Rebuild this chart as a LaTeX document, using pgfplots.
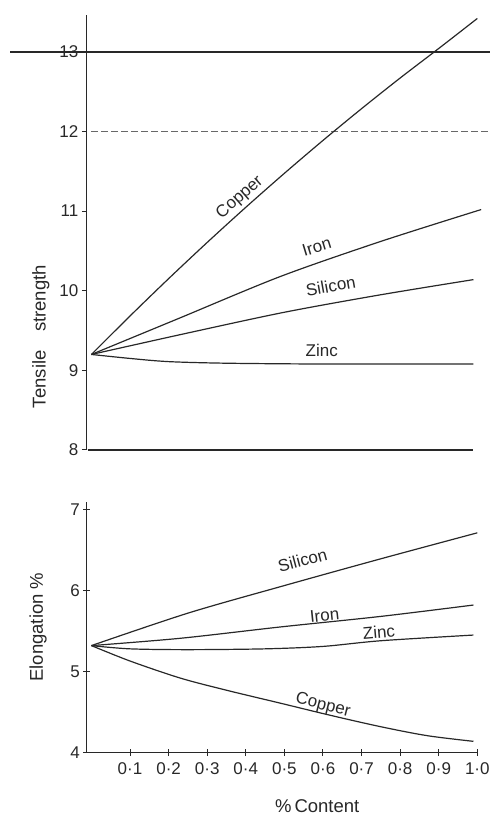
\documentclass[border=0pt]{standalone}
\usepackage{fontspec}
\setmainfont{Liberation Sans}
\usepackage{pgfplots}
\pgfplotsset{compat=1.18}
\definecolor{ink}{RGB}{40,40,40}
\newcommand\lab{\fontsize{18.5}{20}\selectfont}
\newcommand\tl{\fontsize{17}{18}\selectfont}
\newcommand\cl{\fontsize{17}{18}\selectfont}
\pgfplotsset{cv/.style={draw=ink, line width=1.2pt, no markers, solid}}
\begin{document}
\begin{tikzpicture}[x=1pt,y=1pt]
\path[use as bounding box] (0,0) rectangle (490,817);
% ---------- top panel ----------
\begin{axis}[at={(86.8pt,367pt)}, anchor=south west, scale only axis,
  width=390.5pt, height=434.7pt,
  xmin=-0.012, xmax=1.0, ymin=8, ymax=13.46, clip=false,
  axis x line=none, axis y line=left,
  axis line style={-, draw=ink, line width=1.2pt},
  ytick={8,9,10,11,12,13}, tick align=outside, major tick length=5pt,
  tick style={draw=ink, line width=1pt},
  yticklabel style={font=\tl, text=ink, /pgf/number format/assume math mode=true},
  ylabel={Tensile\quad strength},
  ylabel style={at={(axis description cs:-0.118,0.261)}, anchor=center, font=\lab, text=ink}]
\addplot[cv] coordinates {(-0.211,13) (1.034,13)};
\addplot[draw=ink!70, line width=0.9pt, no markers, dash pattern=on 7pt off 3pt] coordinates {(0,12) (1.034,12)};
\addplot[cv] coordinates {(-0.01,8) (0.99,8)};
% Copper
\addplot[cv, smooth] coordinates {(0,9.2) (0.1,9.683) (0.2,10.152) (0.3,10.607) (0.4,11.048) (0.5,11.475) (0.6,11.888) (0.7,12.287) (0.8,12.672) (0.9,13.043) (1.0,13.42)};
% Iron
\addplot[cv, smooth] coordinates {(0,9.2) (0.1,9.4) (0.23,9.66) (0.49,10.18) (0.75,10.62) (1.01,11.02)};
% Silicon
\addplot[cv, smooth] coordinates {(0,9.2) (0.25,9.47) (0.5,9.73) (0.75,9.95) (0.99,10.14)};
% Zinc
\addplot[cv, smooth] coordinates {(0,9.2) (0.1,9.15) (0.2,9.11) (0.35,9.09) (0.6,9.08) (0.99,9.08)};
\node[rotate=41, font=\cl, text=ink] at (axis cs:0.385,11.17) {Copper};
\node[rotate=17, font=\cl, text=ink] at (axis cs:0.584,10.55) {Iron};
\node[rotate=10, font=\cl, text=ink] at (axis cs:0.62,10.06) {Silicon};
\node[font=\cl, text=ink] at (axis cs:0.597,9.25) {Zinc};
\end{axis}
% ---------- bottom panel ----------
\begin{axis}[at={(86.8pt,64.3pt)}, anchor=south west, scale only axis,
  width=390.5pt, height=250.7pt,
  xmin=-0.012, xmax=1.0, ymin=4, ymax=7.09, clip=false,
  axis lines=left,
  axis line style={-, draw=ink, line width=1.2pt},
  ytick={4,5,6,7}, tick align=center, major tick length=7pt,
  tick style={draw=ink, line width=1pt},
  xtick={0.1,0.2,0.3,0.4,0.5,0.6,0.7,0.8,0.9,1.0},
  xticklabels={0·1,0·2,0·3,0·4,0·5,0·6,0·7,0·8,0·9,1·0},
  xticklabel style={font=\tl, text=ink, yshift=-3pt},
  yticklabel style={font=\tl, text=ink, /pgf/number format/assume math mode=true},
  ylabel={Elongation \%},
  ylabel style={at={(axis description cs:-0.125,0.501)}, anchor=center, font=\lab, text=ink},
  xlabel={\%\,Content},
  xlabel style={at={(axis description cs:0.59,-0.213)}, anchor=center, font=\lab, text=ink}]
% Silicon
\addplot[cv, smooth] coordinates {(0,5.32) (0.25,5.72) (0.5,6.06) (0.75,6.39) (1.0,6.71)};
% Iron
\addplot[cv, smooth] coordinates {(0,5.32) (0.23,5.41) (0.49,5.55) (0.75,5.68) (0.99,5.82)};
% Zinc
\addplot[cv, smooth] coordinates {(0,5.32) (0.1,5.28) (0.25,5.27) (0.45,5.28) (0.6,5.31) (0.75,5.38) (0.99,5.45)};
% Copper
\addplot[cv, smooth] coordinates {(0,5.32) (0.1,5.13) (0.23,4.92) (0.35,4.77) (0.49,4.61) (0.62,4.46) (0.75,4.32) (0.87,4.21) (0.99,4.14)};
\node[rotate=15, font=\cl, text=ink] at (axis cs:0.547,6.37) {Silicon};
\node[rotate=6, font=\cl, text=ink] at (axis cs:0.604,5.69) {Iron};
\node[rotate=5, font=\cl, text=ink] at (axis cs:0.745,5.49) {Zinc};
\node[rotate=-14, font=\cl, text=ink] at (axis cs:0.60,4.58) {Copper};
\end{axis}
\end{tikzpicture}
\end{document}
